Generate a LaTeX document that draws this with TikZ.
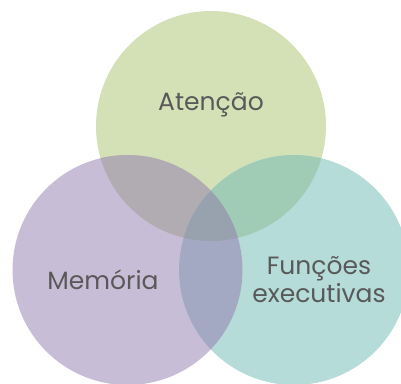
\documentclass[tikz,border=0pt]{standalone}
\usepackage{fontspec}
\setmainfont{Poppins}
\definecolor{corAt}{HTML}{D4E1B6}
\definecolor{corMe}{HTML}{C8BDD7}
\definecolor{corFe}{HTML}{B5DCD8}
\definecolor{corAtMe}{HTML}{B1ACB1}
\definecolor{corAtFe}{HTML}{A0CCB5}
\definecolor{corMeFe}{HTML}{A3A8C3}
\definecolor{corTodos}{HTML}{98A1AE}
\definecolor{texto}{HTML}{595959}
\tikzset{
    rotulo/.style={text=texto, font=\fontsize{25}{28}\selectfont, align=center, inner sep=0pt}
}
\begin{document}
\begin{tikzpicture}[x=1pt, y=-1pt]
    \useasboundingbox (0,0) rectangle (401,383);
    \clip (0,0) rectangle (401,383);

    % Centros dos circulos
    \coordinate (atencao) at (211,126);
    \coordinate (memoria) at (127.5,270);
    \coordinate (funcoes) at (294,270);
    \def\raio{115}

    % Circulos
    \fill[corAt] (atencao) circle (\raio);
    \fill[corMe] (memoria) circle (\raio);
    \fill[corFe] (funcoes) circle (\raio);

    % Intersecoes
    \begin{scope}
        \clip (atencao) circle (\raio);
        \fill[corAtMe] (memoria) circle (\raio);
        \fill[corAtFe] (funcoes) circle (\raio);
    \end{scope}
    \begin{scope}
        \clip (memoria) circle (\raio);
        \fill[corMeFe] (funcoes) circle (\raio);
        \clip (atencao) circle (\raio);
        \fill[corTodos] (funcoes) circle (\raio);
    \end{scope}

    % Rotulos
    \node[rotulo] (tAtencao) at (211,105) {Atenção};
    \node[rotulo] (tMemoria) at (103,280) {Memória};
    \node[rotulo] (tFuncoes) at (319,280) {Funções\\executivas};

\end{tikzpicture}
\end{document}
